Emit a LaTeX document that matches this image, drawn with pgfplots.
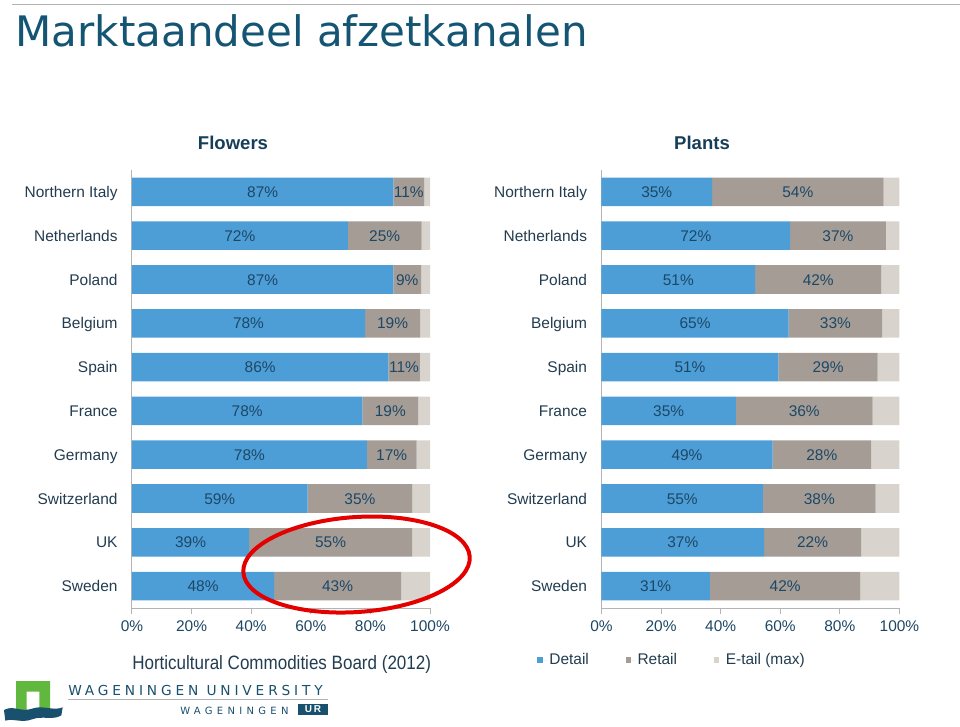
\documentclass[border=0pt]{standalone}
\usepackage{fontspec}
\setmainfont{Liberation Sans}
\newfontfamily\titlefont{DejaVu Sans}
\newfontfamily\logofont[LetterSpace=28]{DejaVu Sans}
\newfontfamily\logofontb[LetterSpace=43]{DejaVu Sans}
\newfontfamily\narrowfont[FakeStretch=0.88]{Liberation Sans}
\usepackage{pgfplots}
\usepackage{pgfplotstable}
\pgfplotsset{compat=1.18}

\definecolor{cblue}{RGB}{77,157,215}
\definecolor{cretail}{RGB}{165,156,150}
\definecolor{cetail}{RGB}{216,212,205}
\definecolor{bartext}{RGB}{28,72,102}
\definecolor{cattext}{RGB}{34,60,80}
\definecolor{ticktext}{RGB}{28,70,98}
\definecolor{titlecol}{RGB}{20,85,115}
\definecolor{paneltitle}{RGB}{22,62,88}
\definecolor{axgray}{RGB}{180,180,180}
\definecolor{lgreen}{RGB}{96,184,62}
\definecolor{logoteal}{RGB}{24,80,110}

% Flowers: detail, retail, e-tail (bar widths) and printed labels
\pgfplotstableread{
idx d r e ld lr
9 87.7 10.4 1.9 87 11
8 72.4 24.8 2.8 72 25
7 87.7 9.3 3.0 87 9
6 78.2 18.5 3.3 78 19
5 86.0 10.6 3.4 86 11
4 77.3 18.8 3.9 78 19
3 78.8 16.7 4.5 78 17
2 58.9 35.2 5.9 59 35
1 39.3 54.7 6.0 39 55
0 47.7 42.6 9.7 48 43
}\flowers

% Plants
\pgfplotstableread{
idx d r e ld lr
9 37.1 57.6 5.3 35 54
8 63.3 32.1 4.6 72 37
7 51.6 42.3 6.1 51 42
6 62.8 31.4 5.8 65 33
5 59.4 33.3 7.3 51 29
4 45.1 45.9 9.0 35 36
3 57.4 33.1 9.5 49 28
2 54.2 37.8 8.0 55 38
1 54.6 32.5 12.9 37 22
0 36.4 50.5 13.1 31 42
}\plants

\pgfplotsset{
  panel/.style={
    scale only axis, width=223.5pt, height=328.5pt, anchor=south west,
    xmin=0, xmax=100, ymin=-0.5, ymax=9.5, clip=false,
  },
  bars/.style={
    panel, xbar stacked, bar width=21.4pt,
    axis x line*=bottom, axis y line*=left,
    axis line style={draw=axgray, line width=0.75pt},
    xtick={0,20,40,60,80,100},
    xticklabels={0\%,20\%,40\%,60\%,80\%,100\%},
    ytick={0,...,9},
    yticklabels={Sweden,UK,Switzerland,Germany,France,Spain,Belgium,Poland,Netherlands,Northern Italy},
    tick align=outside, major tick length=4.5pt,
    xtick style={draw=axgray, line width=0.75pt},
    ytick style={draw=none},
    ticklabel style={font=\fontsize{11.6}{13}\selectfont},
    xticklabel style={text=ticktext, yshift=-1.5pt},
    yticklabel style={text=cattext, xshift=-2.8pt, text height=8.3pt, text depth=0pt},
  },
  labels/.style={panel, hide axis},
  lbl/.style={only marks, mark=none, nodes near coords={\pgfplotspointmeta\%},
    point meta=explicit symbolic,
    every node near coord/.append style={anchor=center, inner sep=0pt,
      font=\fontsize{11.6}{13}\selectfont, text=bartext, text height=8.3pt, text depth=0pt}},
}

\begin{document}
\begin{tikzpicture}
\path[use as bounding box] (0,0) rectangle (720pt,544.5pt);

% top rule and title
\draw[axgray, line width=0.75pt] (9pt,541.1pt) -- (720pt,541.1pt);
\node[anchor=base west, inner sep=0pt, text=titlecol, font=\titlefont\fontsize{31.5}{36}\selectfont] at (11.5pt,509.5pt) {Marktaandeel afzetkanalen};

% panel titles
\node[anchor=base, inner sep=0pt, text=paneltitle, font=\bfseries\fontsize{13.9}{16}\selectfont] at (174.75pt,432pt) {Flowers};
\node[anchor=base, inner sep=0pt, text=paneltitle, font=\bfseries\fontsize{13.9}{16}\selectfont] at (526.5pt,432pt) {Plants};

% ---------- Flowers ----------
\begin{axis}[bars, at={(99pt,88.5pt)}]
\addplot[fill=cblue, draw=none] table[x=d, y=idx] \flowers;
\addplot[fill=cretail, draw=none] table[x=r, y=idx] \flowers;
\addplot[fill=cetail, draw=none] table[x=e, y=idx] \flowers;
\end{axis}
\begin{axis}[labels, at={(99pt,88.5pt)}]
\addplot[lbl] table[x expr=\thisrow{d}/2, y=idx, meta=ld] \flowers;
\addplot[lbl] table[x expr=\thisrow{d}+\thisrow{r}/2, y=idx, meta=lr] \flowers;
\end{axis}

% ---------- Plants ----------
\begin{axis}[bars, at={(451.1pt,88.5pt)},
  legend style={at={(-0.216,-0.119)}, anchor=west, draw=none, fill=none,
    inner sep=0pt, legend columns=3,
    font=\fontsize{11.6}{13}\selectfont, text=cattext,
    /tikz/every even column/.append style={column sep=25.5pt}},
  legend image code/.code={\fill[#1] (0pt,-2pt) rectangle (4pt,2pt); \path (0pt,0pt) -- (7pt,0pt);},
]
\addplot[fill=cblue, draw=none] table[x=d, y=idx] \plants;
\addplot[fill=cretail, draw=none] table[x=r, y=idx] \plants;
\addplot[fill=cetail, draw=none] table[x=e, y=idx] \plants;
\legend{Detail,Retail,E-tail (max)}
\end{axis}
\begin{axis}[labels, at={(451.1pt,88.5pt)}]
\addplot[lbl] table[x expr=\thisrow{d}/2, y=idx, meta=ld] \plants;
\addplot[lbl] table[x expr=\thisrow{d}+\thisrow{r}/2, y=idx, meta=lr] \plants;
\end{axis}

% red ellipse annotation
\draw[red!90!black, line width=3pt, rotate around={4:(267.4pt,121.1pt)}] (267.4pt,121.1pt) ellipse [x radius=85.1pt, y radius=35.6pt];

% source
\node[anchor=base west, inner sep=0pt, text=cattext, font=\narrowfont\fontsize{14.5}{16}\selectfont] at (99pt,42.75pt) {Horticultural Commodities Board (2012)};

% logo
\fill[lgreen] (12pt,11.25pt) -- (12pt,33.75pt) -- (37.5pt,33.75pt) -- (37.5pt,11.25pt) -- (29.5pt,11.25pt) -- (29.5pt,25.7pt) -- (20pt,25.7pt) -- (20pt,11.25pt) -- cycle;
\fill[logoteal] (3pt,12pt) .. controls (10pt,16pt) and (16pt,10pt) .. (24pt,13pt) .. controls (32pt,16pt) and (40pt,11pt) .. (47pt,14pt) -- (46pt,8pt) .. controls (40pt,4pt) and (32pt,8pt) .. (24pt,5pt) .. controls (16pt,2pt) and (10pt,6pt) .. (4pt,4pt) -- cycle;
\node[anchor=base west, inner sep=0pt, text=logoteal, font=\logofont\fontsize{10.3}{12}\selectfont] at (51pt,23.25pt) {WAGENINGEN UNIVERSITY};
\draw[axgray, line width=0.75pt] (51pt,19.9pt) -- (246pt,19.9pt);
\node[anchor=base west, inner sep=0pt, text=logoteal, font=\logofontb\fontsize{7.5}{9}\selectfont] at (135pt,9pt) {WAGENINGEN};
\fill[logoteal] (223.5pt,8.25pt) rectangle (246pt,16.5pt);
\node[inner sep=0pt, text=white, font=\bfseries\fontsize{7.5}{9}\selectfont] at (234.75pt,12.4pt) {U\,R};
\end{tikzpicture}
\end{document}
